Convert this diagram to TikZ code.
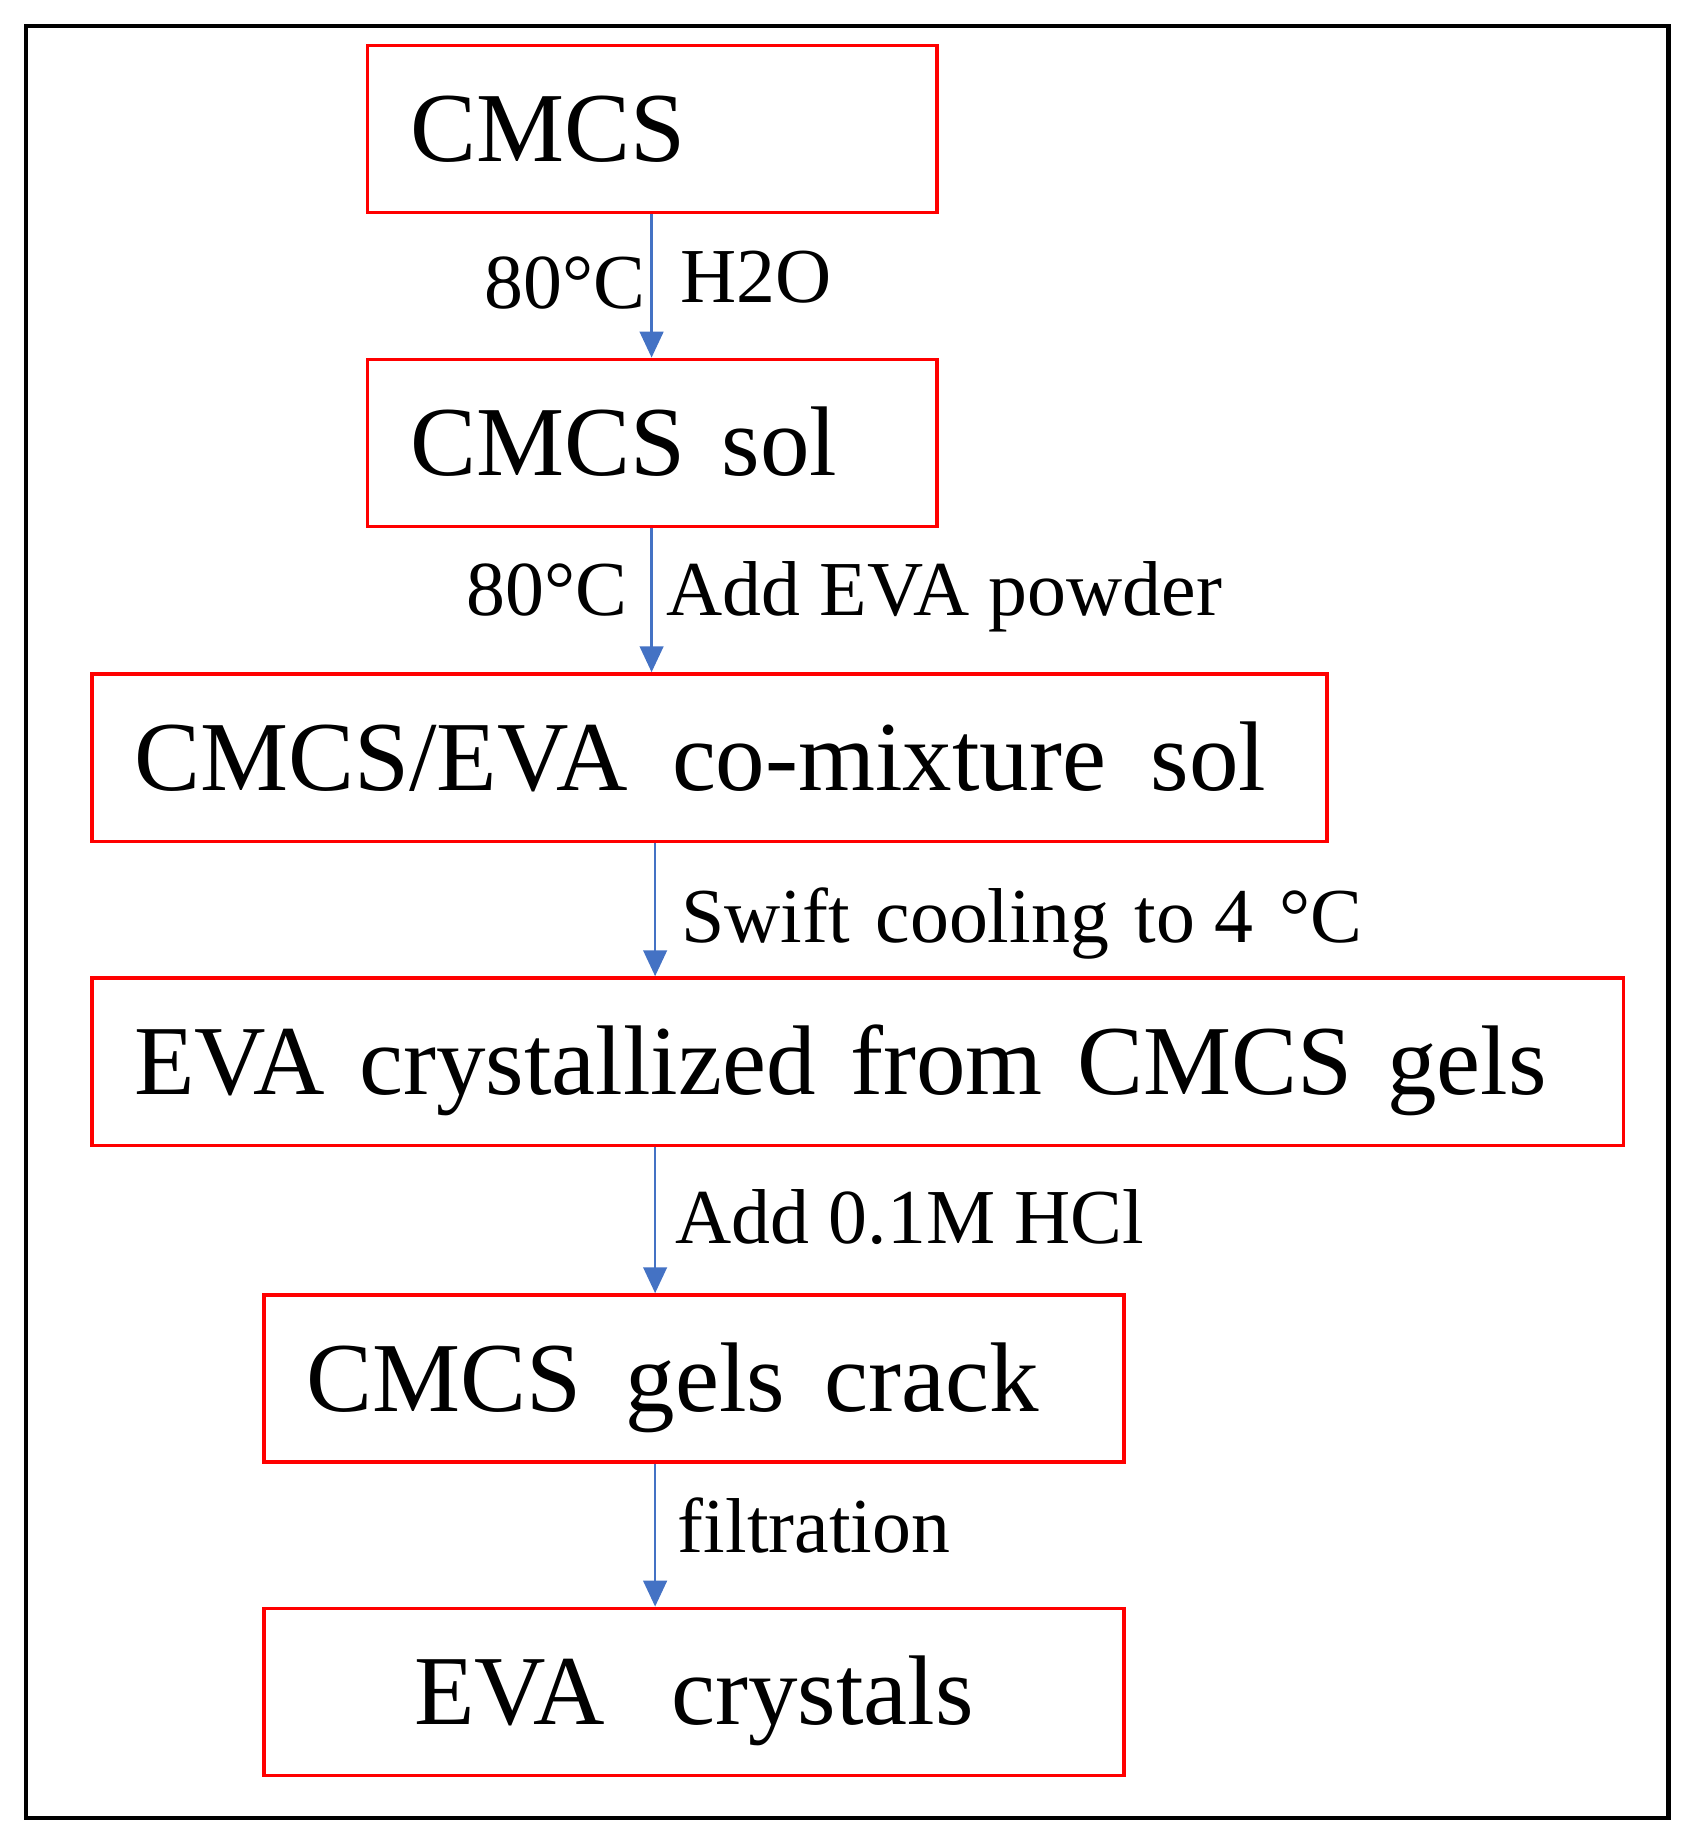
\documentclass[tikz,border=0pt]{standalone}
\usepackage{fontspec}
\setmainfont{Liberation Serif}
\usepackage{tikz}
\usetikzlibrary{arrows.meta}
\definecolor{flowblue}{HTML}{4472C4}

\begin{document}
\begin{tikzpicture}[x=0.5pt,y=-0.5pt]
\tikzstyle{stepbox}=[draw=red,line width=1.5pt,inner xsep=18pt,inner ysep=0pt,minimum height=71pt,font=\fontsize{42}{48}\selectfont,text height=37pt,text depth=9.2pt]
\tikzstyle{cond}=[inner sep=0pt,font=\fontsize{33}{40}\selectfont]
\tikzstyle{flow}=[draw=flowblue,line width=1.1pt,-{Triangle[length=11pt,width=10pt]}]
\useasboundingbox (0,0) rectangle (1440.5,1565);
\draw[line width=2pt] (22,22) rectangle (1416,1543);
% boxes
\node[stepbox] (cmcs) at (553.5,109.5) {\makebox[205.5pt][l]{CMCS}};
\node[stepbox] (sol) at (553.5,376) {\makebox[205.5pt][l]{CMCS\hspace{0.37em}sol}};
\node[stepbox] (mixsol) at (602,643) {\makebox[488pt][l]{CMCS/EVA\hspace{0.45em}co-mixture\hspace{0.45em}sol}};
\node[stepbox] (gels) at (728,901) {\makebox[614pt][l]{EVA\hspace{0.35em}crystallized\hspace{0.35em}from\hspace{0.35em}CMCS\hspace{0.35em}gels}};
\node[stepbox] (crack) at (589,1170) {\makebox[329pt][l]{CMCS\hspace{0.45em}gels\hspace{0.4em}crack}};
\node[stepbox] (crystals) at (589,1436) {\makebox[329pt][c]{EVA\hspace{0.67em}crystals}};
\coordinate (axisA) at (553,0);
\coordinate (axisB) at (556,0);
% arrows
\foreach \a/\b/\c in {cmcs/sol/axisA,sol/mixsol/axisA,mixsol/gels/axisB,gels/crack/axisB,crack/crystals/axisB}{
\draw[flow] (\a.south -| \c) -- (\b.north -| \c);
}
% conditions
\node[cond,anchor=base east] (t1) at (548,262) {80°C};
\node[cond,anchor=base west] (w1) at (577,257) {H2O};
\node[cond,anchor=base east] (t2) at (533,522) {80°C};
\node[cond,anchor=base west] (w2) at (565,522) {Add EVA powder};
\node[cond,anchor=base west] (c3) at (578,800) {Swift\hspace{0.33em}cooling\hspace{0.33em}to 4\hspace{0.33em}°C};
\node[cond,anchor=base west] (c4) at (573,1055) {Add 0.1M HCl};
\node[cond,anchor=base west] (c5) at (575,1318) {filtration};
\end{tikzpicture}
\end{document}
